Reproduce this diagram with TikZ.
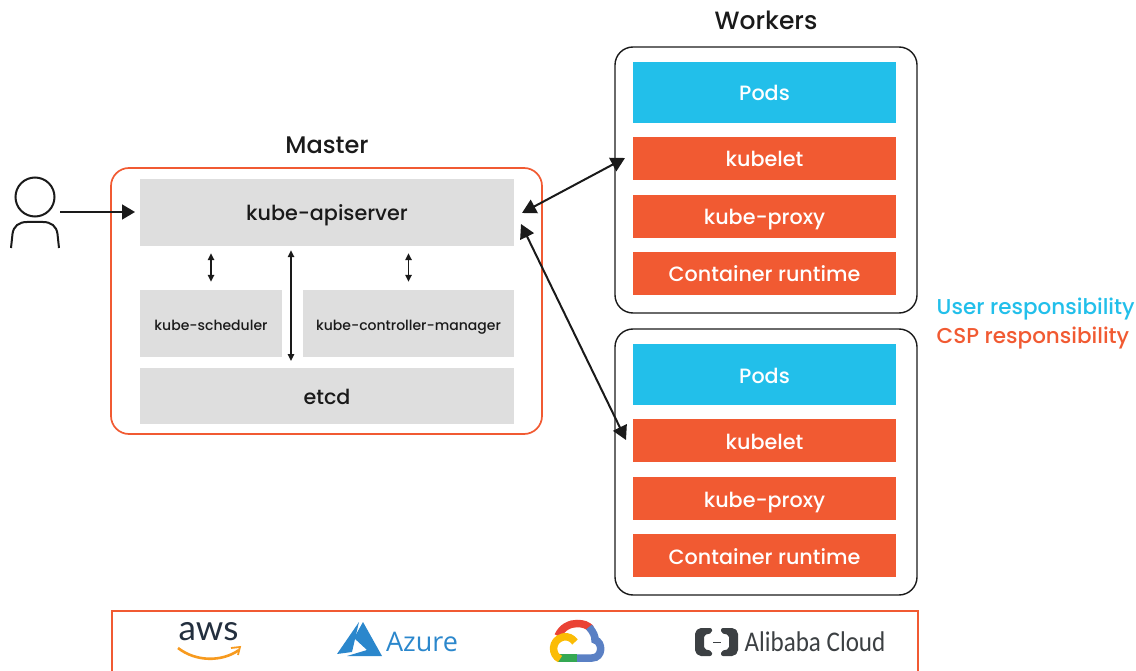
\documentclass[tikz,border=0pt]{standalone}
\usepackage{fontspec}
\setmainfont{Poppins Medium}
\newfontfamily\logofont{Carlito}[FakeStretch=0.88]
\newfontfamily\azurefont{Open Sans}
\newfontfamily\awsfont{Lato}
\usetikzlibrary{arrows.meta}
\definecolor{cspred}{HTML}{F15A32}
\definecolor{userblue}{HTML}{22BFEA}
\definecolor{panelgray}{HTML}{DEDEDE}
\definecolor{inkblack}{HTML}{1A1A1A}
\definecolor{azureblue}{HTML}{2B87CC}
\definecolor{alicloud}{HTML}{3C4043}
\definecolor{awsink}{HTML}{232F3E}
\definecolor{awsorange}{HTML}{F79A1E}
\definecolor{gcpred}{HTML}{EA4335}
\definecolor{gcpblue}{HTML}{5A80C4}
\definecolor{gcpgreen}{HTML}{34A853}
\definecolor{gcpyellow}{HTML}{FBBC05}
\tikzset{
  panel/.style = {fill = panelgray, text = inkblack, inner sep = 0pt},
  bigtext/.style = {font = \fontsize{20.7}{24}\selectfont, text height = 18pt, text depth = 1pt},
  smalltext/.style = {font = \fontsize{14}{18}\selectfont, text height = 14pt, text depth = 0pt},
  userbar/.style = {bigtext, fill = userblue, text = white, inner sep = 0pt, minimum width = 263pt, minimum height = 61pt},
  cspbar/.style = {bigtext, fill = cspred, text = white, inner sep = 0pt, minimum width = 263pt, minimum height = 43pt},
  bigboth/.style = {line width = 2pt, inkblack, {Triangle[length = 14pt, width = 15pt]}-{Triangle[length = 14pt, width = 15pt]}},
  smallboth/.style = {line width = 1.5pt, inkblack, {Triangle[length = 7pt, width = 6.5pt]}-{Triangle[length = 7pt, width = 6.5pt]}},
  worker/.style = {draw = inkblack, line width = 1.4pt, rounded corners = 18pt, inner sep = 0pt, minimum width = 302pt, minimum height = 266pt},
  heading/.style = {text = inkblack, inner sep = 0pt}
}
\begin{document}
\begin{tikzpicture}[x = 1pt, y = -1pt]
        \useasboundingbox (0,0) rectangle (1136,671);

        % master
        \node[draw = cspred, line width = 1.7pt, rounded corners = 18pt, minimum width = 431pt, minimum height = 266pt, inner sep = 0pt] (master) at (326.5,301) {};
        \node[heading, font = \fontsize{24}{28}\selectfont] (masterlabel) at (327,145) {Master};
        \node[panel, bigtext, minimum width = 374pt, minimum height = 67pt] (api) at (327,212.5) {kube-apiserver};
        \node[panel, smalltext, minimum width = 142pt, minimum height = 67pt] (sched) at (211,323.5) {kube-scheduler};
        \node[panel, smalltext, minimum width = 211pt, minimum height = 67pt] (ctrl) at (408.5,323.5) {kube-controller-manager};
        \node[panel, bigtext, minimum width = 374pt, minimum height = 56pt] (etcd) at (327,396) {etcd};

        % workers
        \node[heading, font = \fontsize{25}{30}\selectfont] (workerslabel) at (766,20) {Workers};
        \node[worker] (workerA) at (766,180) {};
        \node[userbar] (podsA) at (764.5,92.5) {Pods};
        \node[cspbar] (kubeletA) at (764.5,158.5) {kubelet};
        \node[cspbar] (proxyA) at (764.5,216.5) {kube-proxy};
        \node[cspbar] (runtimeA) at (764.5,273.5) {Container runtime};

        \node[worker] (workerB) at (766,462) {};
        \node[userbar] (podsB) at (764.5,374.5) {Pods};
        \node[cspbar] (kubeletB) at (764.5,440.5) {kubelet};
        \node[cspbar] (proxyB) at (764.5,498.5) {kube-proxy};
        \node[cspbar] (runtimeB) at (764.5,555.5) {Container runtime};

        % legend
        \node[anchor = west, inner sep = 0pt, text = userblue, font = \fontsize{21.5}{26}\selectfont] (userlabel) at (936.5,309) {User responsibility};
        \node[anchor = west, inner sep = 0pt, text = cspred, font = \fontsize{21.5}{26}\selectfont] (csplabel) at (936.5,338) {CSP responsibility};

        % user
        \draw[line width = 2pt, inkblack] (35,197) circle(19.5);
        \draw[line width = 2pt, inkblack] (11,248) -- (12.5,234) .. controls (13.5,226) and (19,222) .. (27,222) -- (43,222) .. controls (51,222) and (56.5,226) .. (57.5,234) -- (59,248);

        % connectors
        \coordinate (userhand) at (60,212);
        \coordinate (apientry) at (135,212);
        \coordinate (apiportA) at (522,213);
        \coordinate (apiportB) at (521,224);
        \coordinate (kubeletportA) at (625,158);
        \coordinate (kubeletportB) at (626,440);
        \draw[line width = 1.7pt, inkblack, -{Triangle[length = 13pt, width = 15pt]}] (userhand) -- (apientry);
        \draw[bigboth] (apiportA) -- (kubeletportA);
        \draw[bigboth] (apiportB) -- (kubeletportB);
        \draw[smallboth] ([yshift = -7pt]api.south -| sched) -- ([yshift = 8pt]sched.north);
        \draw[smallboth] ([yshift = -7pt]api.south -| ctrl) -- ([yshift = 8pt]ctrl.north);
        \coordinate (busend) at (291,361);
        \draw[smallboth] ([yshift = -4pt]api.south -| busend) -- (busend);

        % provider strip
        \draw[draw = cspred, line width = 2pt] (111.5,675) -- (111.5,611) -- (917.5,611) -- (917.5,675);

        % aws
        \node[text = awsink, inner sep = 0pt, font = \awsfont\fontsize{35}{40}\selectfont] (aws) at (208.5,632) {aws};
        \draw[line width = 2.6pt, awsorange] (178,648) .. controls (196,662) and (222,662) .. (239,650);
        \draw[line width = 1.8pt, awsorange] (231,648) -- (240,647) -- (238,655);

        % azure
        \fill[azureblue] (359,622) -- (337,654) -- (352,652) -- cycle;
        \fill[azureblue] (363,622) -- (382,656) -- (347,656) -- (367,650) -- (354,638) -- cycle;
        \node[text = azureblue, inner sep = 0pt, font = \azurefont\fontsize{27}{30}\selectfont] (azure) at (422,642) {Azure};

        % google cloud
        \draw[line width = 7.5pt, gcpred] (558,636) .. controls (562,627) and (570,623.5) .. (577,623.5) .. controls (583,623.5) and (588,625) .. (591,629);
        \draw[line width = 7.5pt, gcpblue] (589,627) .. controls (594,633) and (595,636) .. (595,640) .. controls (603,642) and (603,658) .. (592,658) -- (577,658);
        \draw[line width = 7.5pt, gcpgreen] (577,658) -- (558,658);
        \draw[line width = 7.5pt, gcpyellow] (560,659) .. controls (551,655) and (551,640) .. (563,637) .. controls (568,636) and (572,638) .. (575,642);

        % alibaba
        \fill[alicloud, rounded corners = 2pt] (712,628) -- (699,628) -- (695,632) -- (695,652) -- (699,656) -- (712,656) -- (712,651) -- (704,649) -- (704,635) -- (712,633) -- cycle;
        \fill[alicloud, rounded corners = 2pt] (721,628) -- (734,628) -- (738,632) -- (738,652) -- (734,656) -- (721,656) -- (721,651) -- (729,649) -- (729,635) -- (721,633) -- cycle;
        \fill[alicloud] (712.5,641.5) rectangle (720.5,643);
        \node[text = alicloud, inner sep = 0pt, font = \logofont\fontsize{28.5}{30}\selectfont] (alibaba) at (815,642) {Alibaba Cloud};
\end{tikzpicture}
\end{document}
